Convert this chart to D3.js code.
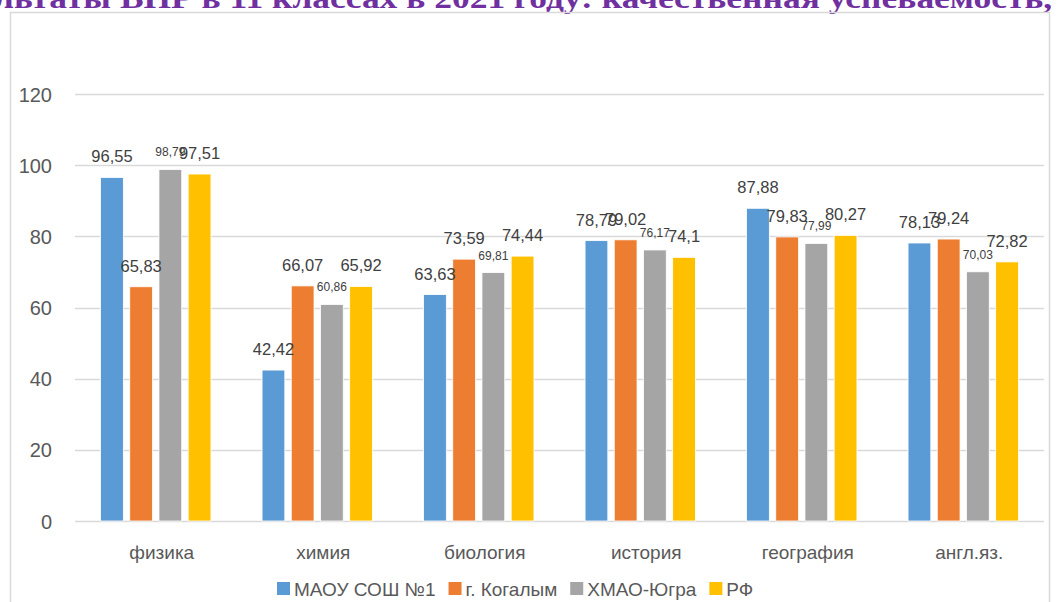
<!DOCTYPE html>
<html>
<head>
<meta charset="utf-8">
<script src="https://cdn.jsdelivr.net/npm/d3@7"></script>
<style>
  body { margin: 0; background: #ffffff; }
  #chart { width: 1057px; height: 602px; overflow: hidden; }
</style>
</head>
<body>
<div id="chart"></div>
<script>
var categories = ["физика", "химия", "биология", "история", "география", "англ.яз."];
var seriesNames = ["МАОУ СОШ №1", "г. Когалым", "ХМАО-Югра", "РФ"];
var school = [96.55, 42.42, 63.63, 78.79, 87.88, 78.13];
var city = [65.83, 66.07, 73.59, 79.02, 79.83, 79.24];
var region = [98.79, 60.86, 69.81, 76.17, 77.99, 70.03];
var russia = [97.51, 65.92, 74.44, 74.1, 80.27, 72.82];
var yTicks = [0, 20, 40, 60, 80, 100, 120];
var titleText = "льтаты ВПР в 11 классах в 2021 году: качественная успеваемость,";

function init(){

    var w = 1057;
    var h = 602;
    var colors = ["#5B9BD5", "#ED7D31", "#A5A5A5", "#FFC000"];
    var allSeries = [school, city, region, russia];

    var svg = d3.select("#chart")
                .append("svg")
                .attr("width", w)
                .attr("height", h);

    // cut-off slide title above the chart
    svg.append("text")
        .attr("x", -6)
        .attr("y", 7.5)
        .attr("textLength", 1058)
        .attr("lengthAdjust", "spacingAndGlyphs")
        .attr("font-family", "Liberation Serif, serif")
        .attr("font-weight", "bold")
        .attr("font-size", "30px")
        .attr("fill", "#7030A0")
        .text(titleText);

    // chart frame
    svg.append("rect")
        .attr("x", 10.5)
        .attr("y", 12.5)
        .attr("width", 1039)
        .attr("height", 620)
        .attr("fill", "none")
        .attr("stroke", "#d9d9d9")
        .attr("stroke-width", 1.5);

    var xScale = d3.scaleBand()
                    .domain(categories)
                    .range([75, 1044]);

    var xInner = d3.scaleBand()
                    .domain(seriesNames)
                    .range([0, xScale.bandwidth()])
                    .paddingInner(0.22)
                    .paddingOuter(0.875);

    var yScale = d3.scaleLinear()
                    .domain([0, 120])
                    .range([521, 94]);

    // gridlines
    svg.selectAll("line.grid")
        .data(yTicks)
        .enter()
        .append("line")
        .attr("class", "grid")
        .attr("x1", 75)
        .attr("x2", 1044)
        .attr("y1", function(d){ return Math.round(yScale(d)) + 0.5; })
        .attr("y2", function(d){ return Math.round(yScale(d)) + 0.5; })
        .attr("stroke", "#d9d9d9")
        .attr("stroke-width", 1.3);

    // y axis labels
    var yAxis = d3.axisLeft(yScale)
                  .tickValues(yTicks)
                  .tickSize(0)
                  .tickPadding(0);
    var gy = svg.append("g")
                .attr("transform", "translate(52,0)")
                .call(yAxis);
    gy.select(".domain").remove();
    gy.selectAll("text")
        .attr("font-family", "Liberation Sans, Arial, sans-serif")
        .attr("font-size", "20px")
        .attr("fill", "#595959")
        .attr("dy", "0.35em");

    // bars
    var rows = [];
    categories.forEach(function(c, i){
        seriesNames.forEach(function(s, j){
            rows.push({cat: c, series: s, idx: j, value: allSeries[j][i]});
        });
    });

    svg.selectAll("rect.bar")
        .data(rows)
        .enter()
        .append("rect")
        .attr("class", "bar")
        .attr("x", function(d){ return xScale(d.cat) + xInner(d.series); })
        .attr("y", function(d){ return yScale(d.value); })
        .attr("width", xInner.bandwidth())
        .attr("height", function(d){ return yScale(0) - yScale(d.value); })
        .attr("fill", function(d){ return colors[d.idx]; })
        .attr("stroke", "#ffffff")
        .attr("stroke-width", 0.8);

    // value labels (grey series uses a smaller font)
    svg.selectAll("text.value")
        .data(rows)
        .enter()
        .append("text")
        .attr("class", "value")
        .attr("x", function(d){ return xScale(d.cat) + xInner(d.series) + xInner.bandwidth() / 2; })
        .attr("y", function(d){ return yScale(d.value) - (d.idx == 2 ? 13 : 15); })
        .attr("text-anchor", "middle")
        .attr("font-family", "Liberation Sans, Arial, sans-serif")
        .attr("font-size", function(d){ return d.idx == 2 ? "12px" : "16.5px"; })
        .attr("fill", "#404040")
        .text(function(d){ return String(d.value).replace(".", ","); });

    // category labels
    svg.selectAll("text.cat")
        .data(categories)
        .enter()
        .append("text")
        .attr("class", "cat")
        .attr("x", function(d){ return xScale(d) + xScale.bandwidth() / 2 + 6; })
        .attr("y", 559)
        .attr("text-anchor", "middle")
        .attr("font-family", "Liberation Sans, Arial, sans-serif")
        .attr("font-size", "19px")
        .attr("fill", "#595959")
        .text(function(d){ return d; });

    // legend
    var legend = svg.append("g")
                    .attr("transform", "translate(277,0)");
    var lx = 0;
    seriesNames.forEach(function(s, j){
        legend.append("rect")
            .attr("x", lx)
            .attr("y", 582)
            .attr("width", 13)
            .attr("height", 13)
            .attr("fill", colors[j]);
        var t = legend.append("text")
            .attr("x", lx + 17)
            .attr("y", 596)
            .attr("font-family", "Liberation Sans, Arial, sans-serif")
            .attr("font-size", "19px")
            .attr("fill", "#595959")
            .text(s);
        lx += 17 + t.node().getComputedTextLength() + 13;
    });
}

window.onload = init;
</script>
</body>
</html>
